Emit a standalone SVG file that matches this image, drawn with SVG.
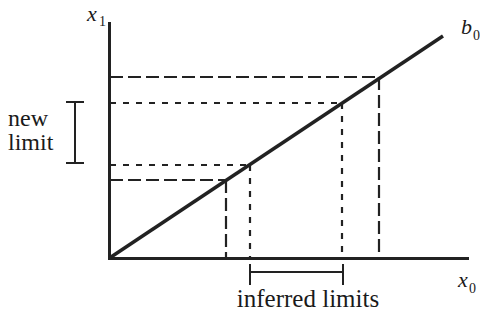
<svg xmlns="http://www.w3.org/2000/svg" width="480" height="326" viewBox="0 0 480 326">
<style>
.ax{stroke:#222;stroke-width:3;fill:none;stroke-linecap:butt}
.diag{stroke:#222;stroke-width:3.5;fill:none}
.ld{stroke:#222;stroke-width:2.2;fill:none;stroke-dasharray:13 5}
.sd{stroke:#222;stroke-width:2.2;fill:none;stroke-dasharray:6 7}
.br{stroke:#222;stroke-width:2;fill:none}
.t{font-family:"Liberation Serif",serif;font-size:24px;fill:#1a1a1a}
.it{font-family:"Liberation Serif",serif;font-style:italic;font-size:22px;fill:#1a1a1a}
.sub{font-family:"Liberation Serif",serif;font-size:14px;fill:#1a1a1a}
</style>
<rect width="480" height="326" fill="#fff"/>
<g id="connectors">
<path class="ld" d="M110,77H380M379,77V257"/>
<path class="sd" d="M110,103H342M342,103V257"/>
<path class="sd" d="M110,165H250M250,165V257"/>
<path class="ld" d="M110,180H226M226,180V257"/>
</g>
<g id="axes">
<path class="ax" d="M109.5,22V258.5H469"/>
<path class="diag" d="M111,257L443,36"/>
</g>
<g id="label-x1"><text class="it" x="87" y="21">x</text><text class="sub" x="99" y="26">1</text></g>
<g id="label-b0"><text class="it" x="461" y="34">b</text><text class="sub" x="473" y="40">0</text></g>
<g id="label-x0"><text class="it" x="458" y="287">x</text><text class="sub" x="469" y="293">0</text></g>
<g id="new-limit">
<path class="br" d="M75,102V163M66,102H84M66,163H84"/>
<text class="t" x="8" y="126">new</text>
<text class="t" x="8" y="150">limit</text>
</g>
<g id="inferred-limits">
<path class="br" d="M250,272H343M250,264V285M343,264V285"/>
<text class="t" x="308" y="307" text-anchor="middle" style="font-size:25px">inferred limits</text>
</g>
</svg>
